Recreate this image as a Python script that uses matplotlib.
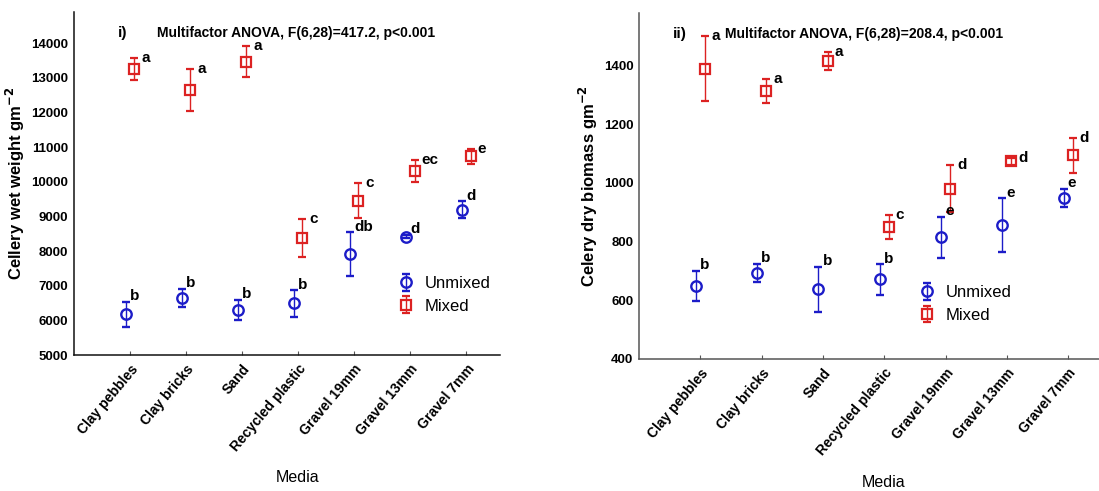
import numpy as np
import matplotlib
matplotlib.use("Agg")
import matplotlib.pyplot as plt
from matplotlib import font_manager

plt.rcParams['font.family'] = ['Liberation Sans', 'DejaVu Sans']

# --- data ---
media = ["Clay pebbles", "Clay bricks", "Sand", "Recycled plastic",
         "Gravel 19mm", "Gravel 13mm", "Gravel 7mm"]

# panel i) wet weight (g m-2)
wet_unmixed = [6170, 6650, 6300, 6490, 7910, 8420, 9190]
wet_unmixed_err = [360, 260, 290, 380, 630, 50, 250]
wet_mixed = [13250, 12650, 13470, 8370, 9450, 10320, 10730]
wet_mixed_err = [320, 600, 460, 550, 510, 320, 230]
wet_unmixed_lbl = ["b", "b", "b", "b", "db", "d", "d"]
wet_mixed_lbl = ["a", "a", "a", "c", "c", "ec", "e"]

# panel ii) dry biomass (g m-2)
dry_unmixed = [648, 694, 637, 671, 815, 856, 949]
dry_unmixed_err = [52, 31, 77, 52, 70, 91, 30]
dry_mixed = [1389, 1313, 1415, 849, 979, 1073, 1093]
dry_mixed_err = [110, 40, 30, 41, 80, 12, 61]
dry_unmixed_lbl = ["b", "b", "b", "b", "e", "e", "e"]
dry_mixed_lbl = ["a", "a", "a", "c", "d", "d", "d"]

BLUE = "#1c1cc8"
RED = "#dc2222"
W, H = 1099, 491

# condensed face for the ANOVA line if it is installed
try:
    font_manager.findfont("Liberation Sans Narrow", fallback_to_default=False)
    title_font, title_size = "Liberation Sans Narrow", 11.5
except ValueError:
    title_font, title_size = "Liberation Sans", 10

fig = plt.figure(figsize=(W / 100, H / 100), dpi=100)


def panel(rect, unm, unm_err, mix, mix_err, unm_lbl, mix_lbl, ylim, yticks,
          ylabel, tag, title, tag_x, title_x, leg_anchor, spine_col):
    ax = fig.add_axes(rect)
    x = np.arange(1, len(media) + 1)
    dx = 0.075
    eb_u = ax.errorbar(x - dx, unm, yerr=unm_err, fmt="o", ms=7.5, mfc="none",
                       mec=BLUE, mew=1.7, color=BLUE, ecolor=BLUE, elinewidth=1.0,
                       capsize=3, capthick=1.0, label="Unmixed")
    eb_m = ax.errorbar(x + dx, mix, yerr=mix_err, fmt="s", ms=7, mfc="none",
                       mec=RED, mew=1.6, color=RED, ecolor=RED, elinewidth=1.0,
                       capsize=3, capthick=1.0, label="Mixed")
    for xi, v, e, s in zip(x, unm, unm_err, unm_lbl):
        ax.annotate(s, (xi - dx, v + e), xytext=(3, 4), textcoords="offset points",
                    fontsize=11, fontweight="bold", va="center", ha="left")
    for xi, v, e, s in zip(x, mix, mix_err, mix_lbl):
        ax.annotate(s, (xi + dx, v + e), xytext=(5, 0), textcoords="offset points",
                    fontsize=11, fontweight="bold", va="center", ha="left")

    ax.set_xlim(0, 7.6)
    ax.set_ylim(*ylim)
    ax.set_yticks(yticks)
    ax.set_xticks(x)
    ax.set_xticklabels(media, rotation=50, ha="right", rotation_mode="anchor",
                       fontsize=10, fontweight="bold")
    for lab in ax.get_yticklabels():
        lab.set_fontweight("bold")
        lab.set_fontsize(9.5)
    ax.tick_params(axis="x", direction="in", length=3, pad=5, color="#555555")
    ax.tick_params(axis="y", length=0, pad=4)
    for side in ("top", "right"):
        ax.spines[side].set_visible(False)
    for side in ("left", "bottom"):
        ax.spines[side].set_color(spine_col)
        ax.spines[side].set_linewidth(1.1)

    ax.set_ylabel(ylabel, fontsize=12, fontweight="bold", labelpad=3)
    ax.set_xlabel("Media", fontsize=11.5)
    ax.xaxis.set_label_coords(0.525, -0.335)
    ax.text(tag_x, 0.94, tag, transform=ax.transAxes, fontsize=11,
            fontweight="bold", va="center")
    ax.text(title_x, 0.94, title, transform=ax.transAxes, fontsize=title_size,
            fontweight="bold", va="center", family=title_font)
    ax.legend(handles=[eb_u, eb_m], loc="upper left", bbox_to_anchor=leg_anchor,
              frameon=False, fontsize=12, handlelength=1.6, handletextpad=0.3,
              labelspacing=0.45, borderaxespad=0, borderpad=0)
    return ax


panel([74 / W, 1 - 355 / H, 426 / W, 343 / H],
      wet_unmixed, wet_unmixed_err, wet_mixed, wet_mixed_err,
      wet_unmixed_lbl, wet_mixed_lbl,
      (5000, 14900), np.arange(5000, 14001, 1000),
      "Cellery wet weight gm$^{\\mathbf{-2}}$", "i)",
      "Multifactor ANOVA, F(6,28)=417.2, p<0.001", 0.103, 0.196, (0.748, 0.23),
      "#111111")

panel([639 / W, 1 - 359 / H, 466 / W, 346 / H],
      dry_unmixed, dry_unmixed_err, dry_mixed, dry_mixed_err,
      dry_unmixed_lbl, dry_mixed_lbl,
      (400, 1578), np.arange(400, 1401, 200),
      "Celery dry biomass gm$^{\\mathbf{-2}}$", "ii)",
      "Multifactor ANOVA, F(6,28)=208.4, p<0.001", 0.073, 0.185, (0.59, 0.213),
      "#555555")

fig.savefig("out.png", dpi=100)
